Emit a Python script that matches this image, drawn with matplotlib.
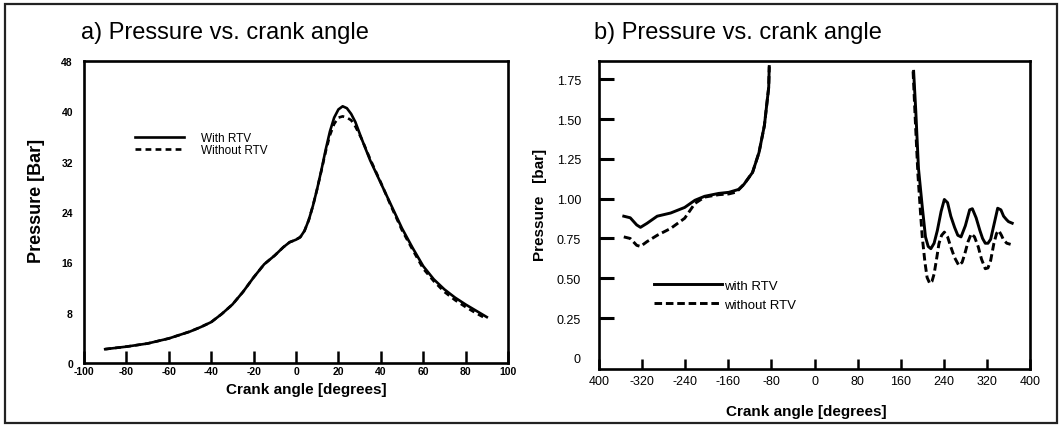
import matplotlib
matplotlib.use("Agg")
import matplotlib.pyplot as plt
from matplotlib.patches import Rectangle

plt.rcParams['font.family'] = ['Liberation Sans', 'DejaVu Sans']
plt.rcParams['axes.unicode_minus'] = False

# ---------------- data: panel a ----------------
a_angle_with = [-90, -80, -70, -60, -50, -45, -40, -35, -30, -25, -20, -15, -10, -6, -3, 0, 2, 4, 6, 8,
                10, 12, 14, 16, 18, 20, 22, 24, 26, 28, 31, 35, 40, 45, 50, 55, 60, 65, 70, 75, 80,
                85, 90]
a_p_with = [2.2, 2.6, 3.1, 3.9, 5.0, 5.7, 6.5, 7.8, 9.3, 11.3, 13.6, 15.7, 17.1, 18.4, 19.2, 19.6, 20.0,
            21.0, 22.7, 25.0, 27.7, 30.7, 33.9, 36.8, 39.0, 40.3, 40.8, 40.5, 39.6, 38.3, 35.6, 32.2,
            28.6, 25.0, 21.4, 18.3, 15.4, 13.3, 11.7, 10.4, 9.3, 8.3, 7.3]
a_angle_without = [-90, -80, -70, -60, -50, -45, -40, -35, -30, -25, -20, -15, -10, -6, -3, 0, 2, 4, 6,
                   8, 10, 12, 14, 16, 18, 20, 22, 24, 26, 28, 31, 35, 40, 45, 50, 55, 60, 65, 70, 75,
                   80, 85, 90]
a_p_without = [2.2, 2.6, 3.1, 3.9, 5.0, 5.7, 6.5, 7.8, 9.3, 11.3, 13.6, 15.7, 17.1, 18.4, 19.2, 19.6,
               20.0, 21.0, 22.7, 25.0, 27.7, 30.6, 33.6, 36.2, 38.0, 39.0, 39.2, 39.0, 38.6, 37.6,
               35.6, 32.4, 28.7, 24.8, 21.1, 18.0, 15.0, 13.0, 11.3, 10.0, 8.9, 7.9, 7.0]
a_xticks = [-100, -80, -60, -40, -20, 0, 20, 40, 60, 80, 100]
a_yticks = [0, 8, 16, 24, 32, 40, 48]

# ---------------- data: panel b ----------------
b_left_angle_with = [-354, -342, -330, -323, -311, -292, -267, -241, -222, -204, -178, -159, -141,
                     -131, -115, -103, -93, -85, -84]
b_left_p_with = [0.89, 0.88, 0.835, 0.82, 0.845, 0.89, 0.91, 0.945, 0.99, 1.015, 1.033, 1.04, 1.058,
                 1.09, 1.165, 1.29, 1.46, 1.70, 1.83]
b_left_angle_without = [-354, -342, -330, -323, -311, -292, -267, -241, -222, -204, -178, -159, -147,
                        -141, -131, -115, -103, -93, -85, -84]
b_left_p_without = [0.76, 0.75, 0.707, 0.70, 0.73, 0.77, 0.813, 0.877, 0.97, 1.01, 1.025, 1.03, 1.04,
                    1.055, 1.09, 1.165, 1.29, 1.46, 1.70, 1.83]
b_right_angle_with = [184, 188, 193, 200, 206, 211, 216, 222, 228, 235, 241, 247, 253, 260, 266, 272,
                      280, 288, 293, 300, 307, 312, 317, 322, 327, 334, 340, 346, 351, 356, 360, 367]
b_right_p_with = [1.80, 1.55, 1.19, 0.95, 0.76, 0.70, 0.686, 0.72, 0.80, 0.92, 0.995, 0.975, 0.89,
                  0.82, 0.77, 0.76, 0.83, 0.93, 0.937, 0.88, 0.80, 0.75, 0.72, 0.72, 0.745, 0.85,
                  0.94, 0.93, 0.89, 0.87, 0.856, 0.846]
b_right_angle_without = [183, 187, 192, 197, 200, 205, 209, 214, 218, 222, 227, 231, 236, 241, 247,
                         253, 260, 268, 274, 279, 285, 291, 297, 304, 310, 317, 322, 327, 333, 338,
                         342, 347, 351, 357, 364]
b_right_p_without = [1.80, 1.50, 1.15, 0.90, 0.76, 0.60, 0.505, 0.467, 0.48, 0.527, 0.63, 0.718, 0.77,
                     0.79, 0.76, 0.697, 0.63, 0.58, 0.60, 0.654, 0.73, 0.78, 0.76, 0.697, 0.62, 0.56,
                     0.565, 0.612, 0.72, 0.782, 0.80, 0.77, 0.74, 0.72, 0.713]
b_xticks = [-400, -320, -240, -160, -80, 0, 80, 160, 240, 320, 400]
b_xticklabels = ["400", "-320", "-240", "-160", "-80", "0", "80", "160", "240", "320", "400"]
b_yticks = [0, 0.25, 0.50, 0.75, 1.00, 1.25, 1.50, 1.75]
b_yticklabels = ["0", "0.25", "0.50", "0.75", "1.00", "1.25", "1.50", "1.75"]

W, H = 1062, 427
fig = plt.figure(figsize=(W / 100, H / 100), dpi=100)

def ax_rect(l, r, t, b):
    return [l / W, (H - b) / H, (r - l) / W, (b - t) / H]

# outer frame
fig.add_artist(Rectangle((5 / W, (H - 424) / H), 1052 / W, 419 / H, transform=fig.transFigure,
                         fill=False, lw=1.6, ec='#222222'))

# ---------------- panel a ----------------
ax1 = fig.add_axes(ax_rect(84, 508, 62, 364))
lw = 1.9
ax1.plot(a_angle_with, a_p_with, color='black', lw=lw, label='With RTV')
ax1.plot(a_angle_without, a_p_without, color='black', lw=lw, ls=(0, (2.2, 1.6)), label='Without RTV')
ax1.set_xlim(-100, 100)
ax1.set_ylim(0, 48)
ax1.set_xticks(a_xticks)
ax1.set_yticks(a_yticks)
ax1.tick_params(axis='x', direction='in', length=9, width=1.8, pad=2)
ax1.tick_params(axis='y', length=0, pad=8)
for lab in ax1.get_xticklabels() + ax1.get_yticklabels():
    lab.set_fontsize(7.5)
    lab.set_fontweight('bold')
for s in ax1.spines.values():
    s.set_linewidth(1.9)
ax1.set_xlabel('Crank angle [degrees]', fontsize=11, fontweight='bold')
ax1.xaxis.set_label_coords(0.524, -0.062)
ax1.set_ylabel('Pressure [Bar]', fontsize=13, fontweight='bold')
ax1.yaxis.set_label_coords(-0.092, 0.54)
leg1 = ax1.legend(loc='upper left', bbox_to_anchor=(0.12, 0.765), frameon=False, fontsize=8.5,
                  handlelength=4.2, handletextpad=1.4, labelspacing=0.02, borderpad=0, borderaxespad=0)
ax1.text(-0.007, 1.058, 'a) Pressure vs. crank angle', transform=ax1.transAxes, fontsize=17,
         ha='left', va='bottom')

# ---------------- panel b ----------------
ax2 = fig.add_axes(ax_rect(599, 1030, 62, 370))
lw2 = 2.1
ax2.plot(b_left_angle_with, b_left_p_with, color='black', lw=lw2, label='with RTV')
ax2.plot(b_left_angle_without, b_left_p_without, color='black', lw=lw2, ls=(0, (2.6, 1.3)),
         label='without RTV')
ax2.plot(b_right_angle_with, b_right_p_with, color='black', lw=lw2)
ax2.plot(b_right_angle_without, b_right_p_without, color='black', lw=lw2, ls=(0, (2.6, 1.3)))
ax2.set_xlim(-400, 400)
ax2.set_ylim(-0.07, 1.865)
ax2.set_xticks(b_xticks)
ax2.set_xticklabels(b_xticklabels)
ax2.set_yticks(b_yticks)
ax2.set_yticklabels(b_yticklabels)
ax2.tick_params(axis='x', direction='in', length=7, width=1.8, pad=4, labelsize=9)
ax2.tick_params(axis='y', direction='in', length=11, width=2.2, pad=13, labelsize=9)
ax2.yaxis.get_major_ticks()[0].tick1line.set_visible(False)
for s in ax2.spines.values():
    s.set_linewidth(1.9)
ax2.set_xlabel('Crank angle [degrees]', fontsize=11, fontweight='bold')
ax2.xaxis.set_label_coords(0.481, -0.115)
ax2.set_ylabel('Pressure   [bar]', fontsize=11, fontweight='bold')
ax2.yaxis.set_label_coords(-0.12, 0.535)
leg2 = ax2.legend(loc='upper left', bbox_to_anchor=(0.127, 0.29), frameon=False, fontsize=9.5,
                  handlelength=5.2, handletextpad=0.15, labelspacing=0.5, borderpad=0, borderaxespad=0)
ax2.text(-0.012, 1.058, 'b) Pressure vs. crank angle', transform=ax2.transAxes, fontsize=17,
         ha='left', va='bottom')

fig.savefig('out.png', dpi=100)
